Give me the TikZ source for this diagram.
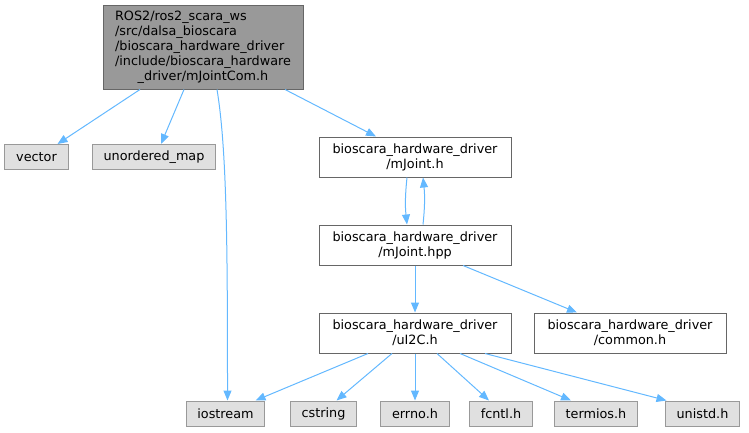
\documentclass[tikz,border=0pt]{standalone}
\usepackage{fontspec}
\setmainfont{DejaVu Sans}
\usepackage{tikz}
\usetikzlibrary{arrows.meta, calc}
\definecolor{edgeblue}{HTML}{63B8FF}
\definecolor{rootfill}{HTML}{999999}
\definecolor{rootline}{HTML}{666666}
\definecolor{sysfill}{HTML}{E0E0E0}
\definecolor{sysline}{HTML}{999999}
\tikzset{
  % Project headers
  header/.style={
    rectangle, draw=rootline, fill=white, line width=0.75pt,
    minimum width=144pt, minimum height=30pt, inner sep=2pt,
    align=center, font=\fontsize{9.6}{11.25}\selectfont,
  },
  % Header of the graph
  rootfile/.style={
    header, fill=rootfill, minimum width=150pt, minimum height=63pt,
  },
  % System headers
  syshdr/.style={
    rectangle, draw=sysline, fill=sysfill, line width=0.75pt,
    minimum height=18.75pt, inner xsep=8.5pt, inner ysep=2pt,
    font=\fontsize{9.6}{11.25}\selectfont,
  },
  % Include arrows
  dep/.style={-{Triangle[length=7.5pt, width=6pt]}, draw=edgeblue, line width=0.75pt},
}

\begin{document}
\begin{tikzpicture}[x=0.75pt, y=-0.75pt]
  \useasboundingbox (0,0) rectangle (749,432);

  % Top file
  \node[rootfile] (root) at (203,47) {%
    \begin{tabular}{@{}l@{}}
      ROS2/ros2\_scara\_ws\\
      /src/dalsa\_bioscara\\
      /bioscara\_hardware\_driver\\
      /include/bioscara\_hardware\\
      \multicolumn{1}{@{}c@{}}{\_driver/mJointCom.h}
    \end{tabular}};

  % First level
  \node[syshdr] (vector) at (36.5,157) {vector};
  \node[syshdr] (umap) at (154,157) {unordered\_map};
  \node[header] (mjoint) at (415,157) {bioscara\_hardware\_driver\\/mJoint.h};
  \node[header] (mjointhpp) at (415,245) {bioscara\_hardware\_driver\\/mJoint.hpp};
  \node[header] (uic) at (415,333) {bioscara\_hardware\_driver\\/uI2C.h};
  \node[header] (common) at (630,333) {bioscara\_hardware\_driver\\/common.h};

  % Bottom row
  \node[syshdr] (iostream) at (225.5,413.5) {iostream};
  \node[syshdr] (cstring) at (323.5,413.5) {cstring};
  \node[syshdr] (errno) at (415,413.5) {errno.h};
  \node[syshdr] (fcntl) at (501,413.5) {fcntl.h};
  \node[syshdr] (termios) at (596,413.5) {termios.h};
  \node[syshdr] (unistd) at (702.5,413.5) {unistd.h};

  % Includes
  \draw[dep] ($(root.south)+(-63,0)$) -- ($(vector.north)+(21,0)$);
  \draw[dep] ($(root.south)+(-19,0)$) -- ($(umap.north)+(7,0)$);
  \draw[dep] ($(root.south)+(14,0)$) .. controls +(10,60) and +(0,-150) .. ($(iostream.north)+(2,0)$);
  \draw[dep] ($(root.south)+(82,0)$) -- ($(mjoint.north)+(-39,0)$);
  \draw[dep] ($(mjoint.south)+(-8,0)$) to[bend right=6] ($(mjointhpp.north)+(-8,0)$);
  \draw[dep] ($(mjointhpp.north)+(8,0)$) to[bend right=6] ($(mjoint.south)+(8,0)$);
  \draw[dep] (mjointhpp) -- (uic);
  \draw[dep] ($(mjointhpp.south)+(48,0)$) -- ($(common.north)+(-53,0)$);
  \draw[dep] ($(uic.south)+(-47,0)$) -- ($(iostream.north)+(30,0)$);
  \draw[dep] ($(uic.south)+(-23,0)$) -- ($(cstring.north)+(13,0)$);
  \draw[dep] (uic) -- (errno);
  \draw[dep] ($(uic.south)+(22,0)$) -- ($(fcntl.north)+(-12,0)$);
  \draw[dep] ($(uic.south)+(45,0)$) -- ($(termios.north)+(-25,0)$);
  \draw[dep] ($(uic.south)+(70,0)$) -- ($(unistd.north)+(-36,0)$);
\end{tikzpicture}
\end{document}
